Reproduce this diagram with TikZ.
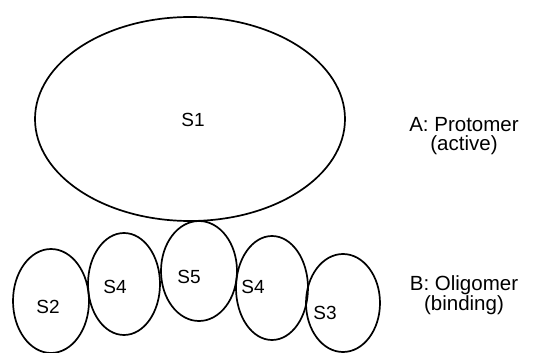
\documentclass[tikz,border=0pt]{standalone}
\usepackage{fontspec}
\setmainfont{Liberation Sans}
\usetikzlibrary{shapes.geometric}
\begin{document}
\begin{tikzpicture}[x=1pt,y=-1pt,
  sub/.style={draw,ellipse,line width=1.7pt,inner sep=0pt},
  lbl/.style={font=\fontsize{19}{20}\selectfont},
  side/.style={font=\fontsize{20.5}{19}\selectfont,align=center}]
\useasboundingbox (0,0) rectangle (555,353);
\node[sub,minimum width=310pt,minimum height=204pt] (s1) at (190,119) {};
\node[sub,minimum width=76pt,minimum height=104pt] (s2) at (51,301) {};
\node[sub,minimum width=72pt,minimum height=102pt] (s4a) at (124,284) {};
\node[sub,minimum width=76pt,minimum height=100pt] (s5) at (199,271) {};
\node[sub,minimum width=72pt,minimum height=104pt] (s4b) at (272,288) {};
\node[sub,minimum width=74pt,minimum height=98pt] (s3) at (343,303) {};
\node[lbl] (t1) at (193,120) {S1};
\node[lbl] (t2) at (48,307) {S2};
\node[lbl] (t4a) at (115,287) {S4};
\node[lbl] (t5) at (189,277) {S5};
\node[lbl] (t4b) at (253,287) {S4};
\node[lbl] (t3) at (325,313) {S3};
\node[side] (a) at (464,136) {A: Protomer\\(active)};
\node[side] (b) at (464,295) {B: Oligomer\\(binding)};
\end{tikzpicture}
\end{document}
